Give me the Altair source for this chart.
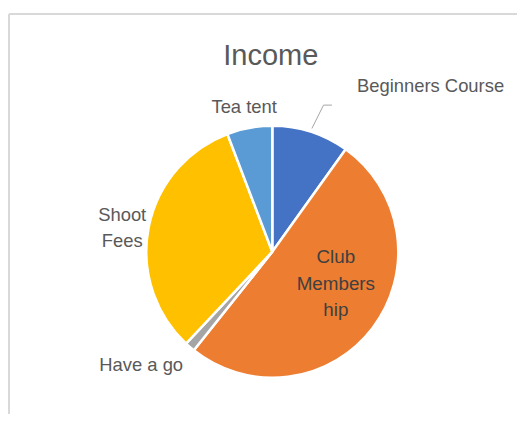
import altair as alt
import pandas as pd

# ---- data ----
categories = ["Beginners Course", "Club Membership", "Have a go", "Shoot Fees", "Tea tent"]
values = [9.9, 50.8, 1.3, 32.2, 5.8]
label_text = ["Beginners Course", "Club\nMembers\nhip", "Have a go", "Shoot\nFees", "Tea tent"]
colors = ["#4472C4", "#ED7D31", "#A5A5A5", "#FFC000", "#5B9BD5"]
title_text = "Income"

# ---- layout (not data) ----
W, H = 509, 406
CX, CY = 264.3, 243.7
R_OUT = 126
FONT = "Liberation Sans"
LINE_H = 26.5
label_r = {"Beginners Course": 129.5, "Club Membership": 70, "Have a go": 150,
           "Shoot Fees": 153, "Tea tent": 147}
label_dx = {"Beginners Course": 0, "Club Membership": 7.7, "Have a go": -33,
            "Shoot Fees": 0, "Tea tent": -1.5}
label_dy = {"Beginners Course": 0, "Club Membership": -10.2, "Have a go": 0,
            "Shoot Fees": 6, "Tea tent": 0}
# centre multi-line labels vertically
line_shift = [-(t.count("\n")) * LINE_H / 2 for t in label_text]

df = pd.DataFrame({
    "idx": list(range(len(categories))),
    "category": categories,
    "value": values,
    "label": label_text,
    "lr": [label_r[c] for c in categories],
    "ldx": [label_dx[c] for c in categories],
    "ldy": [label_dy[c] + s for c, s in zip(categories, line_shift)],
})

base = (
    alt.Chart(df)
    .transform_window(cum="sum(value)", sort=[{"field": "idx"}], frame=[None, 0])
    .transform_joinaggregate(total="sum(value)")
    .transform_calculate(mid="2*PI*(datum.cum - datum.value/2)/datum.total")
    .transform_calculate(
        px=f"{CX} + datum.lr*sin(datum.mid) + datum.ldx",
        py=f"{CY} - datum.lr*cos(datum.mid) + datum.ldy",
    )
)

pie = alt.Chart(df).mark_arc(outerRadius=R_OUT, stroke="white", strokeWidth=2.5).encode(
    theta=alt.Theta("value:Q", stack=True),
    color=alt.Color("category:N", scale=alt.Scale(domain=categories, range=colors), legend=None),
    order=alt.Order("idx:Q"),
    x=alt.value(CX),
    y=alt.value(CY),
)

outside = base.transform_filter(
    alt.FieldOneOfPredicate(field="category", oneOf=["Have a go", "Shoot Fees", "Tea tent"])
).mark_text(
    font=FONT, fontSize=18.4, color="#595959", align="center", baseline="middle",
    lineBreak="\n", lineHeight=LINE_H,
).encode(
    x=alt.X("px:Q", scale=None, axis=None),
    y=alt.Y("py:Q", scale=None, axis=None),
    text="label:N",
)

inside = base.transform_filter(alt.datum.category == "Club Membership").mark_text(
    font=FONT, fontSize=18.8, color="#404040", align="center", baseline="middle",
    lineBreak="\n", lineHeight=LINE_H,
).encode(
    x=alt.X("px:Q", scale=None, axis=None),
    y=alt.Y("py:Q", scale=None, axis=None),
    text="label:N",
)

callout = base.transform_filter(alt.datum.category == "Beginners Course").transform_calculate(
    ex="datum.px + 11.6", ey="datum.py - 23.3"
).transform_calculate(
    tx="datum.ex + 8.4", lx="datum.ex + 33.4", ly="datum.ey - 18.7"
)

leader1 = callout.mark_rule(color="#a6a6a6", strokeWidth=1).encode(
    x=alt.X("px:Q", scale=None, axis=None), y=alt.Y("py:Q", scale=None, axis=None),
    x2="ex:Q", y2="ey:Q",
)
leader2 = callout.mark_rule(color="#a6a6a6", strokeWidth=1).encode(
    x=alt.X("ex:Q", scale=None, axis=None), y=alt.Y("ey:Q", scale=None, axis=None),
    x2="tx:Q",
)
callout_text = callout.mark_text(
    font=FONT, fontSize=18.4, color="#595959", align="left", baseline="middle",
).encode(
    x=alt.X("lx:Q", scale=None, axis=None),
    y=alt.Y("ly:Q", scale=None, axis=None),
    text="label:N",
)

title = alt.Chart(pd.DataFrame({"t": [title_text]})).mark_text(
    font=FONT, fontSize=29, color="#595959", align="center", baseline="alphabetic",
).encode(x=alt.value(262.8), y=alt.value(57), text="t:N")

frame_df = pd.DataFrame({"a": [0]})
border_top = alt.Chart(frame_df).mark_rule(color="#d9d9d9", strokeWidth=2).encode(
    x=alt.value(1), x2=alt.value(W), y=alt.value(6)
)
border_left = alt.Chart(frame_df).mark_rule(color="#d9d9d9", strokeWidth=2).encode(
    x=alt.value(1), y=alt.value(6), y2=alt.value(H)
)

chart = alt.layer(
    border_top, border_left, pie, leader1, leader2, outside, inside, callout_text, title
).properties(
    width=W, height=H, autosize=alt.AutoSizeParams(type="none"), padding=0,
    background="white",
).configure_view(stroke=None)

chart.save("out.html", embed_options={"renderer": "svg", "actions": False})
